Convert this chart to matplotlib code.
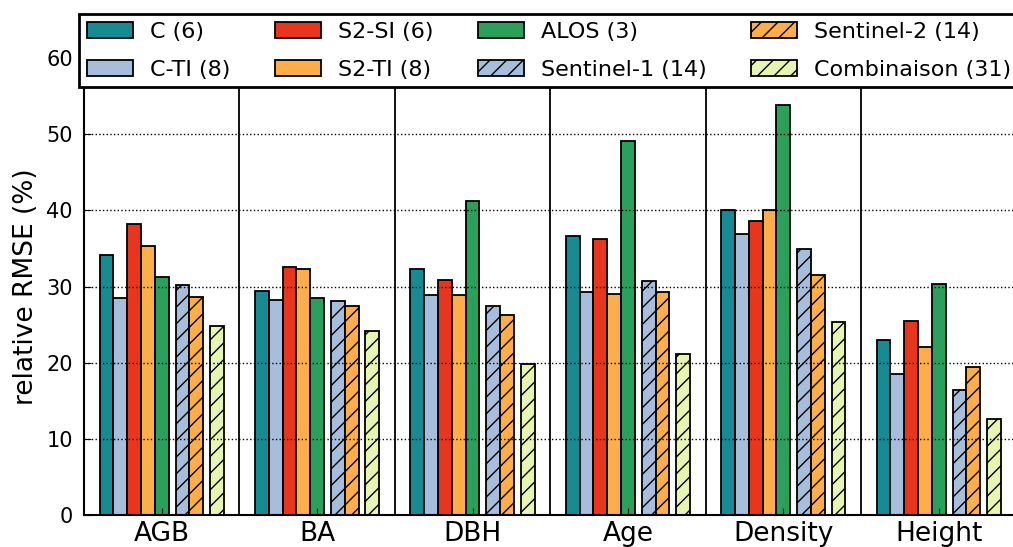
import matplotlib
matplotlib.use("Agg")
import matplotlib.pyplot as plt
import numpy as np

categories = ["AGB", "BA", "DBH", "Age", "Density", "Height"]
series_labels = ["C (6)", "C-TI (8)", "S2-SI (6)", "S2-TI (8)", "ALOS (3)",
                 "Sentinel-1 (14)", "Sentinel-2 (14)", "Combinaison (31)"]

c_vals = [34.15, 29.4, 32.3, 36.7, 40.1, 23.0]
cti_vals = [28.5, 28.2, 28.85, 29.25, 36.9, 18.5]
s2si_vals = [38.2, 32.6, 30.9, 36.2, 38.6, 25.5]
s2ti_vals = [35.3, 32.3, 28.85, 29.0, 40.0, 22.1]
alos_vals = [31.3, 28.5, 41.3, 49.1, 53.8, 30.3]
sentinel1_vals = [30.25, 28.1, 27.45, 30.7, 34.9, 16.4]
sentinel2_vals = [28.6, 27.5, 26.3, 29.25, 31.5, 19.4]
combinaison_vals = [24.8, 24.2, 19.8, 21.2, 25.4, 12.6]

yticks = [0, 10, 20, 30, 40, 50, 60]

series_values = [c_vals, cti_vals, s2si_vals, s2ti_vals, alos_vals,
                 sentinel1_vals, sentinel2_vals, combinaison_vals]

colors = ["#178a94", "#a6bddb", "#e8351e", "#fdae4b", "#2aa05c",
          "#a6bddb", "#fdae4b", "#e6f5b0"]
hatches = [None, None, None, None, None, "//", "//", "//"]
slots = [0, 1, 2, 3, 4, 5.5, 6.5, 8]

fig = plt.figure(figsize=(10.13, 5.47), dpi=100)
ax = fig.add_axes([84 / 1013, 1 - 515 / 547, 932.4 / 1013, (515 - 58.2) / 547])

w = 0.8 / 9
x = np.arange(len(categories))
for vals, col, h, s, lab in zip(series_values, colors, hatches, slots, series_labels):
    ax.bar(x - 0.4 + s * w, vals, width=w, align="edge", color=col,
           edgecolor="black", linewidth=1.3, hatch=h, label=lab)

for b in np.arange(len(categories) - 1) + 0.5:
    ax.axvline(b, color="black", linewidth=1.3, zorder=3)

ax.set_xlim(-0.5, len(categories) - 0.5)
ax.set_ylim(0, 60)
ax.set_yticks(yticks)
ax.set_xticks(x)
ax.set_xticklabels(categories, fontsize=19)
ax.tick_params(axis="y", labelsize=15, direction="in", length=5, pad=8)
ax.tick_params(axis="x", direction="in", length=5, pad=4)
ax.yaxis.grid(True, linestyle=":", color="black", linewidth=1.0)
ax.set_ylabel("relative RMSE (%)", fontsize=19, labelpad=5)
for sp in ax.spines.values():
    sp.set_linewidth(1.5)

leg = ax.legend(loc="upper left", bbox_to_anchor=(79 / 1013, 1 - 14 / 547),
                bbox_transform=fig.transFigure, ncol=4, fontsize=16,
                borderaxespad=0, borderpad=0.35, handlelength=2.07,
                handleheight=0.72, handletextpad=0.77, columnspacing=2.0,
                labelspacing=0.8, fancybox=False, framealpha=1,
                edgecolor="black")
leg.get_frame().set_linewidth(2)
leg.set_zorder(10)

fig.savefig("out.png", dpi=100)
